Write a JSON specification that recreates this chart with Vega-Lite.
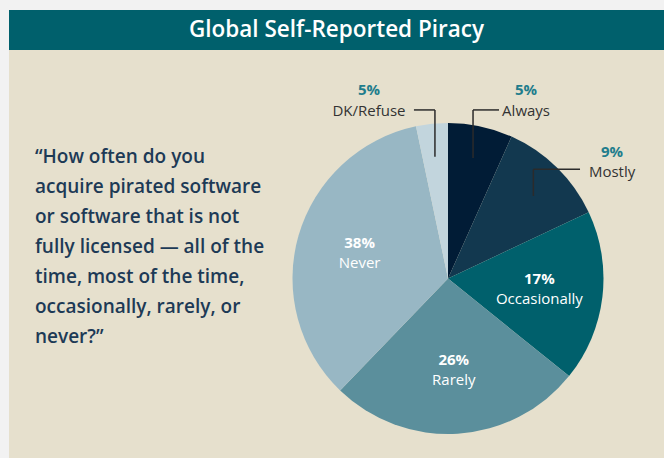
{
  "$schema": "https://vega.github.io/schema/vega-lite/v6.json",
  "background": "#f2f2f2",
  "padding": {"left": 9, "top": 10, "right": 0, "bottom": 0},
  "spacing": 0,
  "bounds": "flush",
  "config": {"view": {"stroke": null}, "concat": {"spacing": 0}, "font": "Open Sans"},
  "datasets": {
    "slices": [
      {"idx": 1, "cat": "Always", "share": 6.7, "pct": 0.05},
      {"idx": 2, "cat": "Mostly", "share": 11.3, "pct": 0.09},
      {"idx": 3, "cat": "Occasionally", "share": 17.8, "pct": 0.17},
      {"idx": 4, "cat": "Rarely", "share": 26.4, "pct": 0.26},
      {"idx": 5, "cat": "Never", "share": 34.5, "pct": 0.38},
      {"idx": 6, "cat": "DK/Refuse", "share": 3.3, "pct": 0.05}
    ],
    "heading": [{"title": "Global Self-Reported Piracy"}],
    "question": [{"q": ["\u201cHow often do you", "acquire pirated software", "or software that is not", "fully licensed \u2014 all of the", "time, most of the time,", "occasionally, rarely, or", "never?\u201d"]}]
  },
  "vconcat": [
    {
      "width": 655, "height": 40,
      "view": {"fill": "#00606c", "stroke": null},
      "data": {"name": "heading"},
      "mark": {"type": "text", "color": "white", "fontSize": 22.5, "fontWeight": 600, "baseline": "middle", "align": "center"},
      "encoding": {"text": {"field": "title"}}
    },
    {
      "hconcat": [
        {
          "width": 223, "height": 408,
          "view": {"fill": "#e6e0cd", "stroke": null},
          "data": {"values": []},
          "mark": "point",
          "encoding": {}
        },
        {
          "vconcat": [
            {
              "width": 432, "height": 49,
              "view": {"fill": "#e6e0cd", "stroke": null},
              "data": {"values": []},
              "mark": "point",
              "encoding": {}
            },
            {
              "width": 432, "height": 359,
              "view": {"fill": "#e6e0cd", "stroke": null},
              "data": {"name": "slices"},
              "layer": [
                {
                  "mark": {"type": "arc", "outerRadius": 155.5},
                  "encoding": {
                    "theta": {"field": "share", "type": "quantitative", "stack": true},
                    "order": {"field": "idx", "type": "quantitative"},
                    "color": {"field": "cat", "type": "nominal", "legend": null,
                      "scale": {"domain": ["Always", "Mostly", "Occasionally", "Rarely", "Never", "DK/Refuse"],
                                "range": ["#011c36", "#12384f", "#00606c", "#5b8f9c", "#98b7c4", "#c2d5dd"]}}
                  }
                },
                {
                  "mark": {"type": "text", "radius": 92, "dy": -10, "fontSize": 15, "fontWeight": "bold", "fill": "white", "align": "center", "baseline": "middle"},
                  "encoding": {
                    "theta": {"field": "share", "type": "quantitative", "stack": true},
                    "order": {"field": "idx", "type": "quantitative"},
                    "detail": {"field": "cat", "type": "nominal"},
                    "text": {"condition": {"test": "datum.idx >= 3 && datum.idx <= 5", "field": "pct", "type": "quantitative", "format": ".0%"}, "value": ""}
                  }
                },
                {
                  "mark": {"type": "text", "radius": 92, "dy": 10, "fontSize": 15, "fill": "white", "align": "center", "baseline": "middle"},
                  "encoding": {
                    "theta": {"field": "share", "type": "quantitative", "stack": true},
                    "order": {"field": "idx", "type": "quantitative"},
                    "detail": {"field": "cat", "type": "nominal"},
                    "text": {"condition": {"test": "datum.idx >= 3 && datum.idx <= 5", "field": "cat", "type": "nominal"}, "value": ""}
                  }
                },
                {
                  "data": {"name": "question"},
                  "mark": {"type": "text", "align": "left", "baseline": "middle", "fontSize": 19, "fontWeight": 600, "lineHeight": 30, "color": "#1d3a56", "dx": -413, "dy": -121.8},
                  "encoding": {"text": {"field": "q"}}
                },
                {
                  "transform": [{"filter": "datum.cat == 'Always'"}],
                  "mark": {"type": "rule", "color": "#2b2b2b", "strokeWidth": 1.5},
                  "encoding": {
                    "x": {"datum": 0.161, "type": "quantitative", "scale": {"domain": [-1.3891, 1.3891], "nice": false, "zero": false}, "axis": null},
                    "y": {"datum": 1.084, "type": "quantitative", "scale": {"domain": [-1.1543, 1.1543], "nice": false, "zero": false}, "axis": null},
                    "x2": {"datum": 0.328}, "y2": {"datum": 1.084}
                  }
                },
                {
                  "transform": [{"filter": "datum.cat == 'Always'"}],
                  "mark": {"type": "rule", "color": "#2b2b2b", "strokeWidth": 1.5},
                  "encoding": {
                    "x": {"datum": 0.161, "type": "quantitative", "scale": {"domain": [-1.3891, 1.3891], "nice": false, "zero": false}, "axis": null},
                    "y": {"datum": 1.084, "type": "quantitative", "scale": {"domain": [-1.1543, 1.1543], "nice": false, "zero": false}, "axis": null},
                    "x2": {"datum": 0.161}, "y2": {"datum": 0.775}
                  }
                },
                {
                  "transform": [{"filter": "datum.cat == 'Mostly'"}],
                  "mark": {"type": "rule", "color": "#2b2b2b", "strokeWidth": 1.5},
                  "encoding": {
                    "x": {"datum": 0.549, "type": "quantitative", "scale": {"domain": [-1.3891, 1.3891], "nice": false, "zero": false}, "axis": null},
                    "y": {"datum": 0.702, "type": "quantitative", "scale": {"domain": [-1.1543, 1.1543], "nice": false, "zero": false}, "axis": null},
                    "x2": {"datum": 0.849}, "y2": {"datum": 0.702}
                  }
                },
                {
                  "transform": [{"filter": "datum.cat == 'Mostly'"}],
                  "mark": {"type": "rule", "color": "#2b2b2b", "strokeWidth": 1.5},
                  "encoding": {
                    "x": {"datum": 0.549, "type": "quantitative", "scale": {"domain": [-1.3891, 1.3891], "nice": false, "zero": false}, "axis": null},
                    "y": {"datum": 0.702, "type": "quantitative", "scale": {"domain": [-1.1543, 1.1543], "nice": false, "zero": false}, "axis": null},
                    "x2": {"datum": 0.549}, "y2": {"datum": 0.531}
                  }
                },
                {
                  "transform": [{"filter": "datum.cat == 'DK/Refuse'"}],
                  "mark": {"type": "rule", "color": "#2b2b2b", "strokeWidth": 1.5},
                  "encoding": {
                    "x": {"datum": -0.219, "type": "quantitative", "scale": {"domain": [-1.3891, 1.3891], "nice": false, "zero": false}, "axis": null},
                    "y": {"datum": 1.084, "type": "quantitative", "scale": {"domain": [-1.1543, 1.1543], "nice": false, "zero": false}, "axis": null},
                    "x2": {"datum": -0.084}, "y2": {"datum": 1.084}
                  }
                },
                {
                  "transform": [{"filter": "datum.cat == 'DK/Refuse'"}],
                  "mark": {"type": "rule", "color": "#2b2b2b", "strokeWidth": 1.5},
                  "encoding": {
                    "x": {"datum": -0.084, "type": "quantitative", "scale": {"domain": [-1.3891, 1.3891], "nice": false, "zero": false}, "axis": null},
                    "y": {"datum": 1.084, "type": "quantitative", "scale": {"domain": [-1.1543, 1.1543], "nice": false, "zero": false}, "axis": null},
                    "x2": {"datum": -0.084}, "y2": {"datum": 0.783}
                  }
                },
                {
                  "transform": [{"filter": "datum.cat == 'Always'"}],
                  "mark": {"type": "text", "fontSize": 15, "fontWeight": "bold", "fill": "#1f7d8c", "align": "center", "baseline": "middle"},
                  "encoding": {
                    "x": {"datum": 0.502, "type": "quantitative", "scale": {"domain": [-1.3891, 1.3891], "nice": false, "zero": false}, "axis": null},
                    "y": {"datum": 1.209, "type": "quantitative", "scale": {"domain": [-1.1543, 1.1543], "nice": false, "zero": false}, "axis": null},
                    "text": {"field": "pct", "type": "quantitative", "format": ".0%"}
                  }
                },
                {
                  "transform": [{"filter": "datum.cat == 'Always'"}],
                  "mark": {"type": "text", "fontSize": 15, "fill": "#333333", "align": "center", "baseline": "middle"},
                  "encoding": {
                    "x": {"datum": 0.502, "type": "quantitative", "scale": {"domain": [-1.3891, 1.3891], "nice": false, "zero": false}, "axis": null},
                    "y": {"datum": 1.077, "type": "quantitative", "scale": {"domain": [-1.1543, 1.1543], "nice": false, "zero": false}, "axis": null},
                    "text": {"field": "cat", "type": "nominal"}
                  }
                },
                {
                  "transform": [{"filter": "datum.cat == 'Mostly'"}],
                  "mark": {"type": "text", "fontSize": 15, "fontWeight": "bold", "fill": "#1f7d8c", "align": "center", "baseline": "middle"},
                  "encoding": {
                    "x": {"datum": 1.055, "type": "quantitative", "scale": {"domain": [-1.3891, 1.3891], "nice": false, "zero": false}, "axis": null},
                    "y": {"datum": 0.8135, "type": "quantitative", "scale": {"domain": [-1.1543, 1.1543], "nice": false, "zero": false}, "axis": null},
                    "text": {"field": "pct", "type": "quantitative", "format": ".0%"}
                  }
                },
                {
                  "transform": [{"filter": "datum.cat == 'Mostly'"}],
                  "mark": {"type": "text", "fontSize": 15, "fill": "#333333", "align": "center", "baseline": "middle"},
                  "encoding": {
                    "x": {"datum": 1.055, "type": "quantitative", "scale": {"domain": [-1.3891, 1.3891], "nice": false, "zero": false}, "axis": null},
                    "y": {"datum": 0.685, "type": "quantitative", "scale": {"domain": [-1.1543, 1.1543], "nice": false, "zero": false}, "axis": null},
                    "text": {"field": "cat", "type": "nominal"}
                  }
                },
                {
                  "transform": [{"filter": "datum.cat == 'DK/Refuse'"}],
                  "mark": {"type": "text", "fontSize": 15, "fontWeight": "bold", "fill": "#1f7d8c", "align": "center", "baseline": "middle"},
                  "encoding": {
                    "x": {"datum": -0.508, "type": "quantitative", "scale": {"domain": [-1.3891, 1.3891], "nice": false, "zero": false}, "axis": null},
                    "y": {"datum": 1.209, "type": "quantitative", "scale": {"domain": [-1.1543, 1.1543], "nice": false, "zero": false}, "axis": null},
                    "text": {"field": "pct", "type": "quantitative", "format": ".0%"}
                  }
                },
                {
                  "transform": [{"filter": "datum.cat == 'DK/Refuse'"}],
                  "mark": {"type": "text", "fontSize": 15, "fill": "#333333", "align": "center", "baseline": "middle"},
                  "encoding": {
                    "x": {"datum": -0.508, "type": "quantitative", "scale": {"domain": [-1.3891, 1.3891], "nice": false, "zero": false}, "axis": null},
                    "y": {"datum": 1.077, "type": "quantitative", "scale": {"domain": [-1.1543, 1.1543], "nice": false, "zero": false}, "axis": null},
                    "text": {"field": "cat", "type": "nominal"}
                  }
                }
              ]
            }
          ],
          "spacing": 0,
          "bounds": "flush"
        }
      ],
      "spacing": 0,
      "bounds": "flush"
    }
  ]
}
